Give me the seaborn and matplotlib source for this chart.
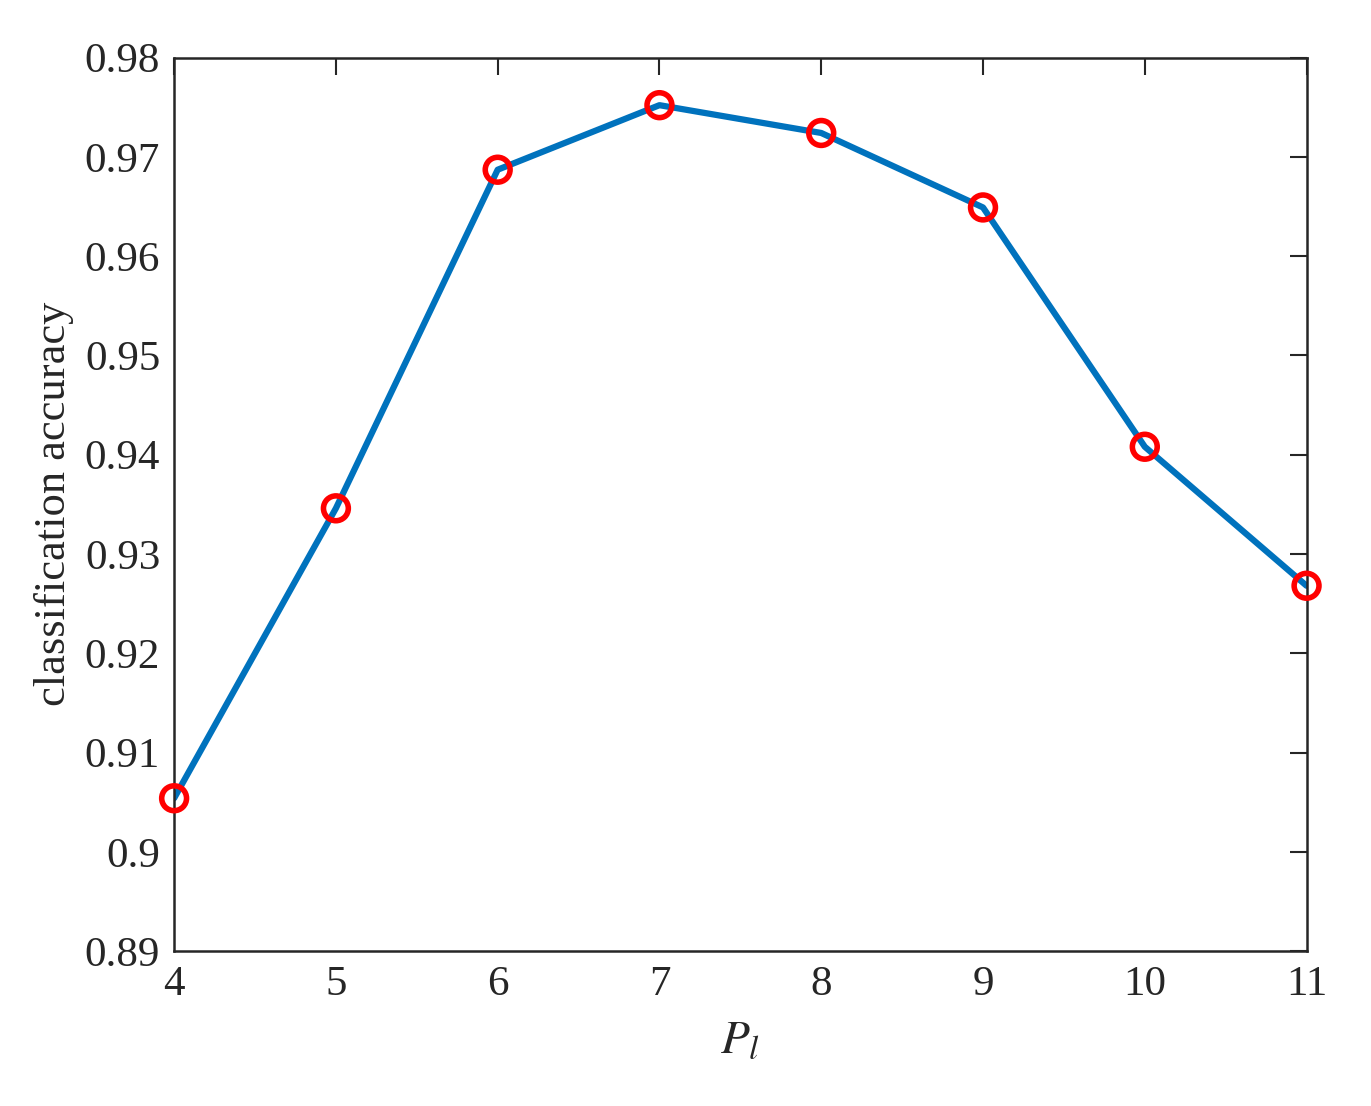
import matplotlib
matplotlib.use("Agg")
import matplotlib.pyplot as plt
import seaborn as sns
import pandas as pd

p_values = [4, 5, 6, 7, 8, 9, 10, 11]
accuracy = [0.9054, 0.9346, 0.9687, 0.9752, 0.9724, 0.9649, 0.9408, 0.9268]
y_ticks = [0.89, 0.90, 0.91, 0.92, 0.93, 0.94, 0.95, 0.96, 0.97, 0.98]
y_labels = ["0.89", "0.9", "0.91", "0.92", "0.93", "0.94", "0.95", "0.96", "0.97", "0.98"]

sns.set_theme(style="white")
plt.rcParams['font.family'] = ['Liberation Serif', 'DejaVu Serif']
plt.rcParams['mathtext.fontset'] = 'stix'

df = pd.DataFrame({"P": p_values, "acc": accuracy})
fig = plt.figure(figsize=(13.71, 11.06), dpi=100)
ax = fig.add_axes([0.127, 0.140, 0.826, 0.808])
sns.lineplot(data=df, x="P", y="acc", ax=ax, color="#0072BD", linewidth=4.5)
sns.scatterplot(data=df, x="P", y="acc", ax=ax, s=320, facecolor="none",
                edgecolor="#FF0000", linewidth=4, zorder=5, clip_on=False)
ax.set_xlim(4, 11)
ax.set_ylim(0.89, 0.98)
ax.set_yticks(y_ticks)
ax.set_yticklabels(y_labels)
ax.set_xticks(p_values)
ax.tick_params(direction="in", length=12, width=1.5, labelsize=31, top=True, right=True,
               colors="#262626", pad=10)
for s in ax.spines.values():
    s.set_visible(True)
    s.set_color("#262626")
    s.set_linewidth(1.8)
ax.set_xlabel("$P_l$", fontsize=34, color="#262626", labelpad=12)
ax.set_ylabel("classification accuracy", fontsize=32, color="#262626", labelpad=8)
fig.savefig("out.png", dpi=100)
